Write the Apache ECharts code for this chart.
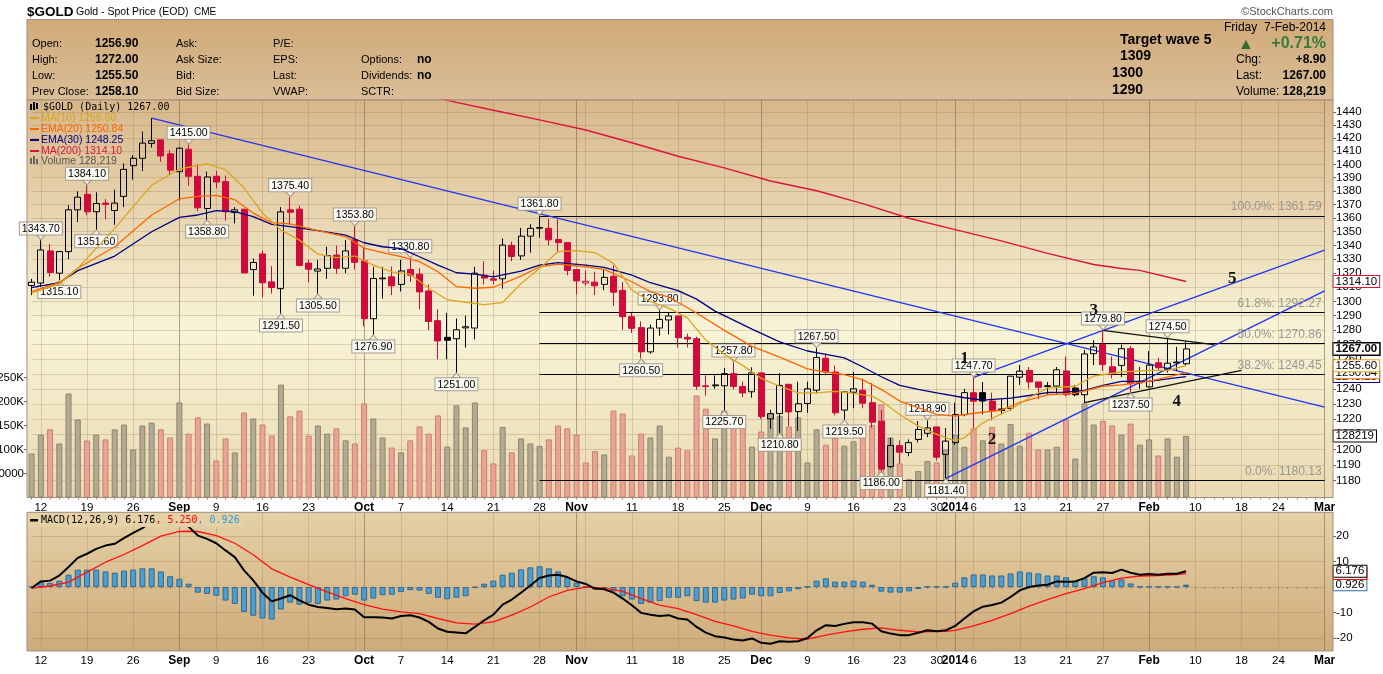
<!DOCTYPE html>
<html>
<head>
<meta charset="utf-8">
<title>$GOLD</title>
<script src="https://cdn.jsdelivr.net/npm/echarts@6/dist/echarts.min.js"></script>
<style>
  html, body { margin: 0; padding: 0; background: #fff; }
  #main { width: 1383px; height: 674px; }
</style>
</head>
<body>
<div id="main"></div>
<script>
// trading days shown on the chart (Aug 9 2013 .. Feb 7 2014) and empty future days up to Mar 3
var tradingDays = ['8/9','8/12','8/13','8/14','8/15','8/16','8/19','8/20','8/21','8/22','8/23','8/26','8/27','8/28','8/29','8/30',
  '9/3','9/4','9/5','9/6','9/9','9/10','9/11','9/12','9/13','9/16','9/17','9/18','9/19','9/20','9/23','9/24','9/25','9/26','9/27','9/30',
  '10/1','10/2','10/3','10/4','10/7','10/8','10/9','10/10','10/11','10/14','10/15','10/16','10/17','10/18','10/21','10/22','10/23','10/24','10/25','10/28','10/29','10/30','10/31',
  '11/1','11/4','11/5','11/6','11/7','11/8','11/11','11/12','11/13','11/14','11/15','11/18','11/19','11/20','11/21','11/22','11/25','11/26','11/27','11/29',
  '12/2','12/3','12/4','12/5','12/6','12/9','12/10','12/11','12/12','12/13','12/16','12/17','12/18','12/19','12/20','12/23','12/24','12/26','12/27','12/30','12/31',
  '1/2','1/3','1/6','1/7','1/8','1/9','1/10','1/13','1/14','1/15','1/16','1/17','1/21','1/22','1/23','1/24','1/27','1/28','1/29','1/30','1/31',
  '2/3','2/4','2/5','2/6','2/7'];
var futureDays = ['2/10','2/11','2/12','2/13','2/14','2/18','2/19','2/20','2/21','2/24','2/25','2/26','2/27','2/28','3/3'];

var opens = [1311.2,1313,1336,1320,1335.5,1366,1377.5,1364.6,1371,1365.5,1376,1399,1404.6,1416,1418.7,1408,
  1394.5,1411.5,1391,1367,1391,1387,1364,1366.5,1322.6,1333.8,1313.8,1309,1366,1366.5,1327.2,1321.5,1323.5,1333,1323.5,1344,
  1328.8,1287.9,1316,1317.4,1312,1322.6,1319.3,1307.3,1286.5,1275,1274,1281.5,1281.4,1318.6,1316,1316,1340,1332.4,1346.7,1352.5,1352.4,1344.3,1342,
  1322.6,1313,1313.6,1312,1317.8,1307.8,1289.3,1281.7,1265,1281.4,1287,1289.8,1275,1274,1242,1242,1242,1250.2,1241.6,1238,
  1250.7,1220,1223.5,1243,1224.8,1230.2,1239,1260.7,1251.3,1225.8,1237.7,1239,1230.7,1218.5,1189,1202.5,1198,1206.5,1210.5,1214.7,1196.8,
  1204.4,1222.8,1237.4,1237.4,1231.8,1226.5,1227,1247.8,1252.4,1244.6,1242,1241.8,1252,1240.5,1236,1263.8,1270,1254.8,1255.8,1267.2,1245,
  1241.3,1257.6,1253.3,1257.5,1256.9];
var highs = [1316,1343.7,1341,1336,1369.5,1379.8,1384.1,1379,1374,1381,1400.7,1407,1425,1435.4,1418.7,1411,
  1413,1415,1400,1394.5,1395,1391.5,1368,1366.5,1330.5,1336.2,1325,1368,1375.4,1369,1329.5,1329.5,1339,1339.8,1344,1353.8,
  1338,1324.5,1324.5,1324.8,1329.5,1330.8,1323.5,1312,1294.5,1292,1288,1290,1324.5,1328.6,1322,1345,1342.7,1352.7,1355.4,1361.8,1359.5,1359.5,1342,
  1322.6,1322,1321,1322.6,1325.6,1313.6,1292,1286,1283.8,1293.8,1292,1289.8,1277.5,1275.5,1249,1249,1254,1257.8,1244.8,1254.5,
  1250.7,1226,1250.6,1243,1244.8,1244.8,1267.5,1264,1255.6,1238,1251.3,1247,1243.8,1226,1207.6,1205.8,1206.5,1218.5,1218.9,1214.7,1214,
  1230.7,1240,1247.7,1244.5,1237.4,1233,1248.5,1256,1254.7,1244.6,1244.6,1254.7,1261.8,1242.6,1266.3,1273,1279.8,1261.8,1270,1269,1254.6,
  1265.5,1261,1274.5,1268.5,1272];
var lows = [1304.5,1310,1317.5,1315.1,1330,1357,1362,1351.6,1359,1355,1368,1388.5,1395,1412.8,1402,1392,
  1373,1384,1365,1358.8,1382,1358,1356,1320,1304,1302.8,1305.5,1291.5,1355,1325,1313.5,1305.5,1316,1319.5,1320,1322.6,
  1282.5,1276.9,1302,1304.5,1307,1313.8,1294.5,1280,1260,1260,1251,1268,1273.6,1312,1312,1309,1328.6,1329.5,1334.8,1345.6,1340,1334.5,1318.5,
  1305,1311,1304.5,1308,1296.8,1280.2,1278,1260.5,1263.7,1276,1277,1268,1268,1239.4,1235.4,1240,1225.7,1239.6,1234.4,1234,
  1220,1213.5,1210.8,1215.5,1212,1224,1237,1249,1222.3,1219.5,1227,1227,1214,1186,1188,1191,1195.6,1204.6,1208,1193,1181.4,
  1203,1221.7,1214,1223,1219,1222.8,1225.5,1242.7,1240,1233,1236,1236,1235,1235,1230.7,1256,1252,1247,1248,1237.5,1240,
  1240.8,1252,1251,1252,1255.5];
var closes = [1313.6,1336.7,1320.5,1335.5,1366,1375.4,1364.5,1370.7,1370,1371,1396.2,1404.6,1416.2,1418,1406.4,1395.6,
  1412.3,1391,1367.5,1390.5,1386.7,1364.6,1366,1320.2,1327.7,1313.1,1309.8,1364.5,1364.2,1325.5,1322.8,1323,1332.6,1323.5,1336,1327.8,
  1287.9,1316.2,1316.5,1311,1321.6,1318.6,1306.7,1286,1272.5,1273,1280.2,1282.3,1320,1316.5,1315,1340.2,1332,1346.7,1352.4,1353,1344,1342,1322,
  1314.5,1314.2,1311,1317,1306.5,1289.3,1281.2,1265,1281.4,1287.4,1289.8,1274.7,1273.8,1241.7,1241.5,1242.6,1250.2,1241.6,1237.2,1250.7,
  1221.5,1223.5,1242.3,1224.6,1230,1240,1261.2,1251.3,1224,1237.9,1240,1230.4,1217.8,1187.3,1202.5,1198.2,1204.4,1213,1214,1195,1205.4,
  1222.8,1237.4,1231.7,1231.8,1225.3,1225.5,1248.5,1251.9,1244.6,1241,1241.5,1252.8,1236,1236,1263.6,1268.4,1256.3,1250,1267.2,1243.4,1244,
  1256,1254.2,1257.3,1258.1,1267];
// volume, thousands
var volumes = [91.7,131,142,112.5,216.7,162.5,118.7,131,121,142,152,100,150,156,142,125,
  198,133,167,154,77,123,94,177,164.6,152,129,235,169,181,129,150,133,144,119,112.5,
  196,164.6,125,104,94,119,148,133,171,106,192,146,198,98.6,71,147,94,123,112.5,107.6,121,150,144,
  131,73,96.5,89.6,181,175,87.5,133,125,150,85,104,98,212.5,185,123,181,150,146,106,
  137.5,175,170,148,167,73,142,110,125,108,117,127,151,194,125,71,38,55,76,73,100,
  130,105.6,144,119,147,112.5,153,108,135,100,100,105.6,162.5,81,196,152,160,150,131,154,110,
  121,87.5,123,85,128.219];

// overlays: [day index, value]
var ma10 = [[0,1305.8],[3,1312.2],[5,1323.5],[9,1352.4],[13,1384.4],[16,1396.5],[19,1400.5],[21,1395.9],[23,1382.4],[25,1363.6],[27,1351.2],[29,1343.8],[31,1333.7],[33,1331.1],[35,1332.3],[37,1325.8],[39,1321],[41,1319.3],[43,1309.3],[45,1301.2],[47,1299.4],[49,1297.8],[51,1299.2],[53,1312.7],[55,1323.4],[57,1335.5],[59,1336.2],[61,1334.8],[63,1327],[65,1308],[67,1299.8],[69,1295.3],[71,1288.5],[73,1273.1],[75,1263.3],[77,1255.8],[79,1247],[81,1241.7],[83,1237.3],[85,1237.3],[87,1238.2],[89,1236.9],[91,1235.1],[92,1231.8],[94,1222.9],[96,1215.2],[98,1209.8],[100,1205.5],[101,1207.6],[103,1217.4],[106,1226.2],[108,1234],[110,1240.5],[113,1241.7],[115,1248.6],[118,1251.3],[121,1252.4],[123,1252.4],[125,1255.6]];
var ema20 = [[0,1306.9],[3,1313.2],[5,1323.5],[9,1339],[13,1362.2],[16,1374.2],[18,1376],[20,1376.8],[22,1373.5],[24,1363.6],[26,1356.6],[28,1355.6],[31,1350.7],[34,1346.3],[36,1338],[38,1334.8],[40,1331.8],[42,1328.3],[44,1321],[46,1310.5],[48,1309.3],[50,1310],[53,1317.9],[55,1324.6],[57,1326.5],[60,1324.6],[62,1322.7],[65,1313.9],[67,1306.9],[69,1303],[72,1291.9],[75,1279.8],[78,1268.8],[81,1261.4],[84,1253.4],[86,1251.3],[88,1249.5],[90,1246],[92,1239.6],[94,1231.8],[96,1227.5],[98,1222.9],[100,1221.8],[102,1223.7],[105,1225.7],[107,1231],[110,1236],[113,1237],[116,1241.7],[118,1242.6],[121,1245],[125,1250.84]];
var ema30 = [[0,1309.7],[3,1313.2],[5,1321.8],[9,1332.3],[13,1349.9],[16,1360.5],[18,1362.2],[20,1365.4],[22,1364.6],[24,1361],[26,1355.3],[28,1353.6],[31,1350.7],[34,1347.5],[36,1341.9],[38,1339],[40,1337.6],[42,1331.8],[44,1325.8],[46,1320.3],[48,1319.3],[50,1317.3],[53,1321.5],[55,1325.8],[57,1327.5],[60,1325.8],[62,1324.1],[65,1318.6],[67,1313.2],[70,1307.6],[72,1301.6],[74,1293.2],[78,1280.7],[81,1271.9],[84,1265.6],[86,1263.3],[88,1260.9],[90,1254.7],[92,1248.1],[94,1242.3],[96,1239.6],[98,1237.3],[101,1234],[103,1232.4],[106,1233.7],[108,1235.5],[110,1237.5],[112,1237.7],[114,1238.9],[116,1242.3],[118,1245],[121,1245],[123,1246.6],[125,1248.25]];
var ma200 = [[42,1454.5],[44,1451.2],[46,1447.7],[50,1441.6],[55,1434.1],[60,1426.3],[65,1416.5],[70,1406.2],[75,1397.4],[80,1387.5],[85,1380.2],[90,1370.6],[95,1359.8],[100,1351.5],[105,1343.3],[110,1334.2],[115,1326.2],[118,1323.3],[120,1322],[125,1314.1]];

// MACD(12,26,9)
var macdLine = [-0.4,2.2,2.5,4.5,7.8,11.4,13,14.9,16.2,16.9,19.1,21.2,23,25.7,26,25.1,24.9,23.6,20.1,18.8,17.1,14.3,11.7,6.5,2.6,-2.2,-5.6,-4.5,-3.2,-5.2,
  -6.9,-7.8,-8.2,-8.7,-8.4,-8.8,-11.8,-11.8,-11.9,-12.3,-11.3,-11,-11.9,-13.6,-16.2,-17.5,-17.8,-18.1,-15.6,-13,-10.8,-6.9,-4.9,-2.2,0.6,3.5,4.5,4.8,3.9,2.2,
  1.2,-0.6,-0.9,-2.2,-4.5,-7.1,-10.1,-10.8,-11.3,-11,-12.3,-12.7,-15.6,-17.8,-19.2,-19.7,-20.5,-20.9,-20.1,-21.8,-22.2,-21.2,-21.4,-21.2,-19.9,-16.9,-14.9,-15.2,-14.4,-13.8,
  -13.8,-14.3,-17.3,-18.2,-18.8,-18.8,-17.9,-16.9,-17.3,-16.9,-15.2,-12.3,-9.5,-7.7,-7,-6.1,-3.9,-1.3,0,0.6,0.9,2.2,2.1,2.2,3.5,5.6,5.8,5.5,6.8,5.6,
  4.8,5.1,4.8,5.2,5.2,6.176];
var signalLine = [[0,-0.4],[2,0.4],[4,1.9],[6,5.8],[8,9.7],[10,12.7],[12,16.2],[14,19.9],[16,21.7],[17,21.8],[18,21.7],[20,20.1],[22,17.1],[24,12.6],[26,7.1],[28,3.9],[30,0.9],[32,-1.9],[34,-4.5],[36,-6.9],[38,-8.6],[40,-9.7],[42,-10.4],[44,-12.3],[46,-14],[48,-14.5],[50,-13.6],[52,-11],[54,-7.8],[56,-3.9],[58,-1.3],[60,0],[62,-0.4],[64,-1.7],[66,-4.5],[68,-7.1],[70,-8.4],[72,-10.8],[74,-13.4],[76,-15.2],[78,-17.3],[80,-18.8],[82,-19.9],[84,-20.4],[86,-18.8],[88,-17.5],[90,-16.5],[92,-16],[94,-16.9],[96,-17.5],[99,-17.3],[100,-16.9],[102,-15.2],[104,-13],[106,-10.4],[108,-7.5],[110,-4.9],[112,-2.6],[114,-0.6],[116,1.7],[118,3.5],[120,4.3],[122,4.5],[124,4.9],[125,5.25]];
var histogram = [0.15,1.9,1.6,2.5,4.8,6.8,6.8,6.8,6.1,5.6,6.4,6.8,7.3,7.3,6.1,4.2,3.2,1.3,-2.2,-2.7,-3.4,-5.3,-6.6,-9.7,-11.2,-12.3,-12.7,-8.8,-6.1,-6.9,
  -6.1,-6.6,-5.3,-4.9,-3.6,-3,-5.3,-4.5,-3.2,-3,-1.9,-1.2,-1.4,-2.7,-4.2,-4.8,-4.2,-3.6,-0.15,1.3,2.5,4.8,5.6,6.9,7.7,8.1,7.3,6.1,3.8,1.7,
  0.15,-1,-0.6,-1.7,-3.6,-4.9,-6.6,-6.1,-5.5,-4.2,-4.2,-3.6,-5.5,-6.1,-6.1,-5.3,-4.9,-4.5,-3,-3.6,-3.6,-2.3,-1.7,-0.9,0.15,2.5,3.4,2.1,2.1,2.5,
  2.1,0.9,-1.8,-2.2,-2.2,-1.7,-0.8,0.15,0.15,0.15,1.7,3.8,4.9,4.9,4.5,4.5,5.3,6.1,5.7,5.3,4.5,4.5,3.8,2.5,3.4,4.2,3.8,2.6,3,1.4,
  0.15,0.15,0.15,0.15,0.15,0.926];

// axis ticks and date labels
var priceTicks = [1180,1190,1200,1210,1220,1230,1240,1250,1260,1270,1280,1290,1300,1310,1320,1330,1340,1350,1360,1370,1380,1390,1400,1410,1420,1430,1440];
var volumeTicks = [50000,100000,150000,200000,250000];
var macdTicks = [-20,-10,0,10,20];
var macdTickLabels = [-20,-10,10,20];
var weekMarks = [['8/12','12'],['8/19','19'],['8/26','26'],['9/3','Sep'],['9/9','9'],['9/16','16'],['9/23','23'],['9/30',''],['10/1','Oct'],['10/7','7'],['10/14','14'],['10/21','21'],['10/28','28'],['11/1','Nov'],['11/4',''],['11/11','11'],['11/18','18'],['11/25','25'],['12/2','Dec'],['12/9','9'],['12/16','16'],['12/23','23'],['12/30','30'],['1/2','2014'],['1/6','6'],['1/13','13'],['1/21','21'],['1/27','27'],['2/3','Feb'],['2/10','10'],['2/18','18'],['2/24','24'],['3/3','Mar']];
var monthStarts = ['9/3','10/1','11/1','12/2','1/2','2/3','3/3'];

// annotations
var highMarks = [['8/12',1343.7],['8/19',1384.1],['9/4',1415.0],['9/19',1375.4],['9/30',1353.8],['10/8',1330.8],['10/28',1361.8],['11/14',1293.8],['11/26',1257.8],['12/10',1267.5],['12/27',1218.9],['1/6',1247.7],['1/27',1279.8],['2/5',1274.5]];
var lowMarks = [['8/14',1315.1],['8/20',1351.6],['9/6',1358.8],['9/18',1291.5],['9/24',1305.5],['10/2',1276.9],['10/15',1251.0],['11/12',1260.5],['11/25',1225.7],['12/4',1210.8],['12/13',1219.5],['12/19',1186.0],['12/31',1181.4],['1/30',1237.5]];
var fibLevels = [['100.0%',1361.59],['61.8%',1292.27],['50.0%',1270.86],['38.2%',1249.45],['0.0%',1180.13]];
var blueTrends = [[['8/28',1435.4],['3/3',1227.7]],[['12/31',1181.4],['3/3',1307.4]],[['1/6',1247.7],['3/3',1336.6]]];
var blackTrends = [[['1/27',1279.8],['2/12',1270]],[['1/23',1230.7],['2/18',1252.4]]];
var waveMarks = [['1','1/3',1260.5],['2','1/8',1206.7],['3','1/24',1293.3],['4','2/6',1231.1],['5','2/14',1315.8]];

var RED = '#D10A3C';
var SANS = '"Liberation Sans", Arial, sans-serif';
var MONO = '"DejaVu Sans Mono", "Liberation Mono", monospace';
var PL = 31.6, PR = 58.4;           // plot edges of the day points
var FRAME_L = 27, FRAME_R = 1333;   // panel frames

var categories = tradingDays.concat(futureDays);
var weekLabel = {};
weekMarks.forEach(function (w) { weekLabel[w[0]] = w[1]; });
var isMonth = {};
monthStarts.forEach(function (m) { isMonth[m] = true; });

var candleData = opens.map(function (o, i) {
  var c = closes[i];
  var prev = i > 0 ? closes[i - 1] : o;
  var col = c >= prev ? '#000000' : RED;
  var fill = c > o ? 'rgba(0,0,0,0)' : col;
  return { value: [o, c, lows[i], highs[i]], itemStyle: { color: fill, color0: fill, borderColor: col, borderColor0: col, borderWidth: 1 } };
});
var volumeData = volumes.map(function (v, i) {
  var up = i === 0 || closes[i] >= closes[i - 1];
  return { value: v * 1000, itemStyle: { color: up ? '#B2AA92' : '#E6A596', borderColor: up ? '#8E856E' : '#D07E70', borderWidth: 1 } };
});

// value flag on the right axis
function flag(value, text, border, bold) {
  return {
    yAxis: value,
    lineStyle: { color: 'rgba(0,0,0,0)', width: 1 },
    label: {
      show: true, position: 'end', distance: 9, formatter: text,
      color: '#000', fontFamily: SANS, fontSize: 11.5, fontWeight: bold ? 'bold' : 'normal', lineHeight: 11,
      backgroundColor: '#fff', borderColor: border, borderWidth: bold ? 1.5 : 1, padding: [0, 2, 0, 2]
    }
  };
}

var markLines = [];
fibLevels.forEach(function (f) {
  markLines.push([
    { coord: ['10/28', f[1]], lineStyle: { color: '#000', width: 1, type: 'solid' },
      label: { show: true, position: 'insideEndTop', formatter: f[0] + ': ' + f[1].toFixed(2), color: '#9A968E', fontFamily: SANS, fontSize: 12, distance: 3 } },
    { coord: ['3/3', f[1]] }
  ]);
});
blueTrends.forEach(function (t) {
  markLines.push([{ coord: t[0], lineStyle: { color: '#2035F0', width: 1.3, type: 'solid' }, label: { show: false } }, { coord: t[1] }]);
});
blackTrends.forEach(function (t) {
  markLines.push([{ coord: t[0], lineStyle: { color: '#111', width: 1.2, type: 'solid' }, label: { show: false } }, { coord: t[1] }]);
});
markLines.push(flag(1267, '1267.00', '#000', true));

var boxLabel = { color: '#000', fontFamily: SANS, fontSize: 10.5, backgroundColor: '#FBFAF2', borderColor: '#A89A8E', borderWidth: 1, padding: [1, 2, 0, 2] };
var markPoints = [];
highMarks.forEach(function (h) {
  markPoints.push({
    coord: h, value: h[1], symbol: 'triangle', symbolRotate: 180, symbolSize: [9, 5], symbolOffset: [0, -3],
    itemStyle: { color: '#F4F1E4', borderColor: '#A89A8E', borderWidth: 1 },
    label: Object.assign({ show: true, position: 'top', distance: 0, formatter: h[1].toFixed(2) }, boxLabel)
  });
});
lowMarks.forEach(function (l) {
  markPoints.push({
    coord: l, value: l[1], symbol: 'triangle', symbolSize: [9, 5], symbolOffset: [0, 3],
    itemStyle: { color: '#F4F1E4', borderColor: '#A89A8E', borderWidth: 1 },
    label: Object.assign({ show: true, position: 'bottom', distance: 0, formatter: l[1].toFixed(2) }, boxLabel)
  });
});
waveMarks.forEach(function (w) {
  markPoints.push({
    coord: [w[1], w[2]], value: w[2], symbol: 'circle', symbolSize: 1, itemStyle: { color: 'rgba(0,0,0,0)' },
    label: { show: true, position: 'inside', formatter: w[0], color: '#111', fontFamily: '"Liberation Serif", "DejaVu Serif", serif', fontSize: 17, fontWeight: 'bold' }
  });
});

function dateAxis(gridIndex) {
  return {
    type: 'category', gridIndex: gridIndex, data: categories, boundaryGap: false,
    axisLine: { show: false },
    axisTick: { show: true, interval: 0, length: 2, lineStyle: { color: '#A08070' } },
    axisLabel: {
      show: true, margin: 4, fontFamily: SANS, fontSize: 11.5, color: '#000',
      interval: function (i, v) { return !!weekLabel[v]; },
      formatter: function (v) { var t = weekLabel[v] || ''; return isMonth[v] ? '{b|' + t + '}' : t; },
      rich: { b: { fontWeight: 'bold', fontFamily: SANS, fontSize: 12, color: '#000' } }
    },
    splitLine: { show: true, interval: function (i, v) { return weekLabel[v] !== undefined; }, lineStyle: { color: 'rgba(150,118,86,0.28)', width: 1 } },
    z: 3
  };
}
function monthAxis(gridIndex) {
  return {
    type: 'category', gridIndex: gridIndex, data: categories, boundaryGap: false,
    axisLine: { show: false }, axisTick: { show: false }, axisLabel: { show: false },
    splitLine: { show: true, interval: function (i, v) { return !!isMonth[v]; }, lineStyle: { color: 'rgba(130,100,80,0.45)', width: 1 } },
    z: 3
  };
}

function txt(x, y, s, opt) {
  opt = opt || {};
  return {
    type: 'text', x: x, y: y, z: opt.z || 30, silent: true,
    style: {
      text: s, fill: opt.color || '#000', align: opt.align || 'left', verticalAlign: 'middle',
      font: (opt.bold ? 'bold ' : '') + (opt.size || 11) + 'px ' + (opt.family || SANS)
    }
  };
}
function box(x, y, w, h, fill, stroke, z) {
  return { type: 'rect', shape: { x: x, y: y, width: w, height: h }, z: z, silent: true, style: { fill: fill, stroke: stroke || null, lineWidth: 1 } };
}

var headerBg = new echarts.graphic.LinearGradient(0, 0, 0, 1, [{ offset: 0, color: '#D1AA79' }, { offset: 1, color: '#D9BE97' }]);
var priceBg = new echarts.graphic.LinearGradient(0, 0, 0, 1, [{ offset: 0, color: '#D7B78A' }, { offset: 0.58, color: '#F8F4D7' }, { offset: 1, color: '#E9D9B1' }]);
var macdBg = new echarts.graphic.LinearGradient(0, 0, 0, 1, [{ offset: 0, color: '#E4D1A5' }, { offset: 1, color: '#CFAB7B' }]);
var FRAME = '#A38C7D';

var graphics = [
  box(FRAME_L, 19.5, FRAME_R - FRAME_L, 80.5, headerBg, FRAME, -10),
  box(FRAME_L, 100, FRAME_R - FRAME_L, 397.5, priceBg, null, -10),
  box(FRAME_L, 512.3, FRAME_R - FRAME_L, 138.7, macdBg, null, -10),
  box(FRAME_L, 100, FRAME_R - FRAME_L, 397.5, 'rgba(0,0,0,0)', FRAME, 25),
  box(FRAME_L, 512.3, FRAME_R - FRAME_L, 138.7, 'rgba(0,0,0,0)', FRAME, 25),
  // title line
  txt(27, 12, '$GOLD', { bold: true, size: 13.5 }),
  txt(76, 12, 'Gold - Spot Price (EOD)', { size: 10.5 }),
  txt(194, 12, 'CME', { size: 10 }),
  txt(1333, 12, '\u00A9StockCharts.com', { size: 11, align: 'right', color: '#555' }),
  // quote block
  txt(32, 44, 'Open:'), txt(32, 60, 'High:'), txt(32, 76, 'Low:'), txt(32, 92, 'Prev Close:'),
  txt(95, 44, '1256.90', { bold: true, size: 12 }), txt(95, 60, '1272.00', { bold: true, size: 12 }), txt(95, 76, '1255.50', { bold: true, size: 12 }), txt(95, 92, '1258.10', { bold: true, size: 12 }),
  txt(176, 44, 'Ask:'), txt(176, 60, 'Ask Size:'), txt(176, 76, 'Bid:'), txt(176, 92, 'Bid Size:'),
  txt(273, 44, 'P/E:'), txt(273, 60, 'EPS:'), txt(273, 76, 'Last:'), txt(273, 92, 'VWAP:'),
  txt(361, 60, 'Options:'), txt(361, 76, 'Dividends:'), txt(361, 92, 'SCTR:'),
  txt(417, 60, 'no', { bold: true, size: 12 }), txt(417, 76, 'no', { bold: true, size: 12 }),
  txt(1120, 40, 'Target wave 5', { bold: true, size: 14 }),
  txt(1120, 56, '1309', { bold: true, size: 14 }),
  txt(1112, 73, '1300', { bold: true, size: 14 }),
  txt(1112, 90, '1290', { bold: true, size: 14 }),
  txt(1326, 28, 'Friday  7-Feb-2014', { align: 'right', size: 12 }),
  txt(1238, 45, '\u25B2', { size: 16, color: '#2F6E2F' }),
  txt(1326, 44, '+0.71%', { bold: true, size: 16, align: 'right', color: '#3A7A3A' }),
  txt(1236, 60, 'Chg:', { size: 12 }), txt(1326, 60, '+8.90', { bold: true, size: 12, align: 'right' }),
  txt(1236, 76, 'Last:', { size: 12 }), txt(1326, 76, '1267.00', { bold: true, size: 12, align: 'right' }),
  txt(1236, 92, 'Volume:', { size: 12 }), txt(1326, 92, '128,219', { bold: true, size: 12, align: 'right' }),
  // price panel legend
  box(30, 104, 2, 6, '#000', null, 30), box(33, 102, 2, 8, '#000', null, 30), box(36, 103, 2, 6, '#000', null, 30),
  txt(43, 107, '$GOLD (Daily) 1267.00', { size: 10, family: MONO }),
  box(30, 117, 9, 2, '#DAA520', null, 30), txt(41, 118, 'MA(10) 1255.60', { size: 10.5, color: '#DAA520' }),
  box(30, 128, 9, 2, '#FF6600', null, 30), txt(41, 129, 'EMA(20) 1250.84', { size: 10.5, color: '#FF6600' }),
  box(30, 139, 9, 2, '#000080', null, 30), txt(41, 140, 'EMA(30) 1248.25', { size: 10.5, color: '#000080' }),
  box(30, 150, 9, 2, '#DC143C', null, 30), txt(41, 151, 'MA(200) 1314.10', { size: 10.5, color: '#DC143C' }),
  box(30, 158, 2, 6, '#666', null, 30), box(33, 156, 2, 8, '#666', null, 30), box(36, 159, 2, 5, '#666', null, 30),
  txt(41, 161, 'Volume 128,219', { size: 10.5, color: '#555' }),
  // MACD legend
  box(28, 513, 218, 14, '#E4D1A5', null, 28),
  box(30, 519, 8, 2.5, '#000', null, 30),
  {
    type: 'text', x: 41, y: 520, z: 30, silent: true,
    style: {
      text: '{k|MACD(12,26,9) 6.176}{r|, 5.250}{b|, 0.926}', verticalAlign: 'middle', align: 'left',
      rich: {
        k: { fill: '#000', font: '10px ' + MONO },
        r: { fill: '#FF0000', font: '10px ' + MONO },
        b: { fill: '#3399DD', font: '10px ' + MONO }
      }
    }
  }
];

var option = {
  animation: false,
  backgroundColor: '#ffffff',
  textStyle: { fontFamily: SANS },
  grid: [
    { left: PL, right: PR, top: 100, height: 397.5, outerBoundsMode: 'none', containLabel: false },
    { left: PL, right: PR, top: 512.3, height: 138.7, outerBoundsMode: 'none', containLabel: false }
  ],
  xAxis: [dateAxis(0), monthAxis(0), dateAxis(1), monthAxis(1)],
  yAxis: [
    {
      type: 'log', logBase: 10, gridIndex: 0, position: 'right', offset: FRAME_R - (1383 - PR), min: 1169.2, max: 1449.6,
      axisLine: { show: false },
      axisTick: { show: true, length: 3, customValues: priceTicks, lineStyle: { color: '#6E6258' } },
      axisLabel: { customValues: priceTicks, margin: 3, fontFamily: SANS, fontSize: 11.5, color: '#000',
        formatter: function (v) { return String(Math.round(v)); } },
      splitLine: { show: true, lineStyle: { color: 'rgba(150,118,86,0.28)', width: 1 } },
      z: 3
    },
    {
      type: 'value', gridIndex: 0, position: 'left', offset: PL - FRAME_L, min: 0, max: 828125,
      axisLine: { show: false },
      axisTick: { show: true, length: 3, customValues: volumeTicks, lineStyle: { color: '#6E6258' } },
      axisLabel: { customValues: volumeTicks, margin: 3, fontFamily: SANS, fontSize: 11.5, color: '#000',
        formatter: function (v) { return v >= 100000 ? (v / 1000) + 'K' : String(v); } },
      splitLine: { show: false }
    },
    {
      type: 'value', gridIndex: 1, position: 'right', offset: FRAME_R - (1383 - PR), min: -25, max: 29.2,
      axisLine: { show: false },
      axisTick: { show: true, length: 3, customValues: macdTicks, lineStyle: { color: '#6E6258' } },
      axisLabel: { customValues: macdTickLabels, margin: 3, fontFamily: SANS, fontSize: 11.5, color: '#000' },
      splitLine: { show: true, lineStyle: { color: 'rgba(150,118,86,0.3)', width: 1 } },
      z: 3
    }
  ],
  graphic: { elements: graphics },
  series: [
    {
      name: 'Volume', type: 'bar', xAxisIndex: 0, yAxisIndex: 1, data: volumeData, barWidth: 6, clip: false, z: 4,
      markLine: { silent: true, symbol: ['none', 'none'], data: [flag(128219, '128219', '#000', false)] }
    },
    {
      name: '$GOLD', type: 'candlestick', xAxisIndex: 0, yAxisIndex: 0, data: candleData, barWidth: 6.5, clip: false, z: 6,
      markLine: { silent: true, symbol: ['none', 'none'], precision: 2, data: markLines },
      markPoint: { silent: true, data: markPoints }
    },
    {
      name: 'MA(200)', type: 'line', xAxisIndex: 0, yAxisIndex: 0, data: ma200, showSymbol: false, z: 7,
      lineStyle: { color: '#DC143C', width: 1.4 },
      markLine: { silent: true, symbol: ['none', 'none'], data: [flag(1314.1, '1314.10', '#DC143C', false)] }
    },
    {
      name: 'EMA(30)', type: 'line', xAxisIndex: 0, yAxisIndex: 0, data: ema30, showSymbol: false, z: 7,
      lineStyle: { color: '#000080', width: 1.3 },
      markLine: { silent: true, symbol: ['none', 'none'], data: [flag(1248.25, '1248.25', '#000080', false)] }
    },
    {
      name: 'EMA(20)', type: 'line', xAxisIndex: 0, yAxisIndex: 0, data: ema20, showSymbol: false, z: 8,
      lineStyle: { color: '#FF6600', width: 1.3 },
      markLine: { silent: true, symbol: ['none', 'none'], data: [flag(1250.84, '1250.84', '#FF6600', false)] }
    },
    {
      name: 'MA(10)', type: 'line', xAxisIndex: 0, yAxisIndex: 0, data: ma10, showSymbol: false, z: 9,
      lineStyle: { color: '#DAA520', width: 1.3 },
      markLine: { silent: true, symbol: ['none', 'none'], data: [flag(1255.6, '1255.60', '#E8A317', false)] }
    },
    {
      name: 'Histogram', type: 'bar', xAxisIndex: 2, yAxisIndex: 2, data: histogram, barWidth: 6, clip: false, z: 5,
      itemStyle: { color: '#4F9DCA', borderColor: '#2B6A9C', borderWidth: 1 },
      markLine: { silent: true, symbol: ['none', 'none'], data: [flag(0.926, '0.926', '#2B6AAE', false)] }
    },
    {
      name: 'Signal', type: 'line', xAxisIndex: 2, yAxisIndex: 2, data: signalLine, showSymbol: false, z: 6,
      lineStyle: { color: '#FF1010', width: 1.3 },
      markLine: { silent: true, symbol: ['none', 'none'], data: [flag(5.25, '5.250', '#FF0000', false)] }
    },
    {
      name: 'MACD', type: 'line', xAxisIndex: 2, yAxisIndex: 2, data: macdLine, showSymbol: false, z: 7,
      lineStyle: { color: '#000', width: 2 },
      markLine: { silent: true, symbol: ['none', 'none'], data: [flag(6.176, '6.176', '#000', false)] }
    }
  ]
};

var chart = echarts.init(document.getElementById('main'), null, { renderer: 'canvas' });
chart.setOption(option);
</script>
</body>
</html>
